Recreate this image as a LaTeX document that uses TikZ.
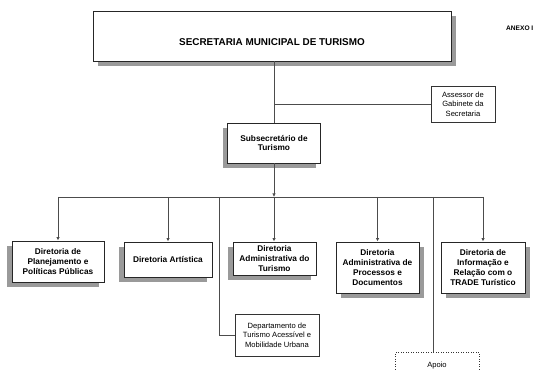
\documentclass[tikz,border=0pt]{standalone}
\usepackage{fontspec}
\setmainfont{Liberation Sans}
\usetikzlibrary{arrows.meta,shadows}
\definecolor{sombra}{HTML}{9A9A9A}
\tikzset{
  caixa/.style={draw=black!85, line width=0.9pt, fill=white, align=center, inner sep=1pt, font=\fontsize{8.3}{9.7}\selectfont\bfseries},
  sombraesq/.style={drop shadow={shadow xshift=-5pt, shadow yshift=-5pt, fill=sombra, opacity=1}},
  sombradir/.style={drop shadow={shadow xshift=5pt, shadow yshift=-5pt, fill=sombra, opacity=1}},
  simples/.style={draw=black!80, line width=0.5pt, fill=white, align=center, inner sep=1pt, font=\fontsize{7.6}{9.4}\selectfont},
  linha/.style={draw=black!70, line width=0.7pt},
  seta/.style={linha, -{Latex[length=3.5pt,width=3.5pt]}}
}
\begin{document}
\begin{tikzpicture}[x=1pt,y=-1pt]
            \useasboundingbox (0,0) rectangle (540,371);
            \node[caixa, sombradir, minimum width=358pt, minimum height=50pt, label={[font=\fontsize{9.9}{11}\selectfont\bfseries, yshift=-6.5pt]center:SECRETARIA MUNICIPAL DE TURISMO}] (secretaria) at (272,36) {};
            \node[font=\fontsize{6.6}{8}\selectfont\bfseries, anchor=east, inner sep=0pt] (anexo) at (533.5,28) {ANEXO I};
            \node[simples, minimum width=64pt, minimum height=36pt] (assessor) at (463,104) {Assessor de\\Gabinete da\\Secretaria};
            \node[caixa, sombraesq, minimum width=93pt, minimum height=40pt] (subsecretario) at (274,143) {Subsecretário de\\Turismo};
            \node[caixa, sombraesq, minimum width=92pt, minimum height=41pt] (planejamento) at (58,261.5) {Diretoria de\\Planejamento e\\Políticas Públicas};
            \node[caixa, sombraesq, minimum width=88pt, minimum height=35pt] (artistica) at (168,259.5) {Diretoria Artística};
            \node[caixa, sombraesq, minimum width=83pt, minimum height=33pt] (turismo) at (274.5,258.5) {Diretoria\\Administrativa do\\Turismo};
            \node[caixa, sombradir, minimum width=83pt, minimum height=51pt] (processos) at (377.5,267.5) {Diretoria\\Administrativa de\\Processos e\\Documentos};
            \node[caixa, sombradir, minimum width=84pt, minimum height=51pt] (informacao) at (483,267.5) {Diretoria de\\Informação e\\Relação com o\\TRADE Turístico};
            \node[simples, minimum width=84pt, minimum height=42pt] (departamento) at (277,335) {Departamento de\\Turismo Acessível e\\Mobilidade Urbana};
            \node[simples, dotted, anchor=north, minimum width=84pt, inner sep=3pt, text height=12pt, text depth=20pt] (apoio) at (437,352) {Apoio};
            \coordinate (juncao) at (274,104);
            \coordinate (barra) at (274,197);
            \coordinate (desvio) at (219,197);
            \coordinate (ramo) at (433,197);
            \draw[linha] (secretaria.south -| subsecretario.north) -- (subsecretario.north);
            \draw[linha] (juncao) -- (assessor.west);
            \draw[seta] (subsecretario.south) -- (barra);
            \draw[linha] (planejamento.north |- barra) -- (informacao.north |- barra);
            \draw[seta] (planejamento.north |- barra) -- (planejamento.north);
            \draw[seta] (artistica.north |- barra) -- (artistica.north);
            \draw[seta] (barra) -- (barra |- turismo.north);
            \draw[seta] (processos.north |- barra) -- (processos.north);
            \draw[seta] (informacao.north |- barra) -- (informacao.north);
            \draw[linha] (desvio) |- (departamento.west);
            \draw[linha] (ramo) -- (ramo |- apoio.north);
\end{tikzpicture}
\end{document}
